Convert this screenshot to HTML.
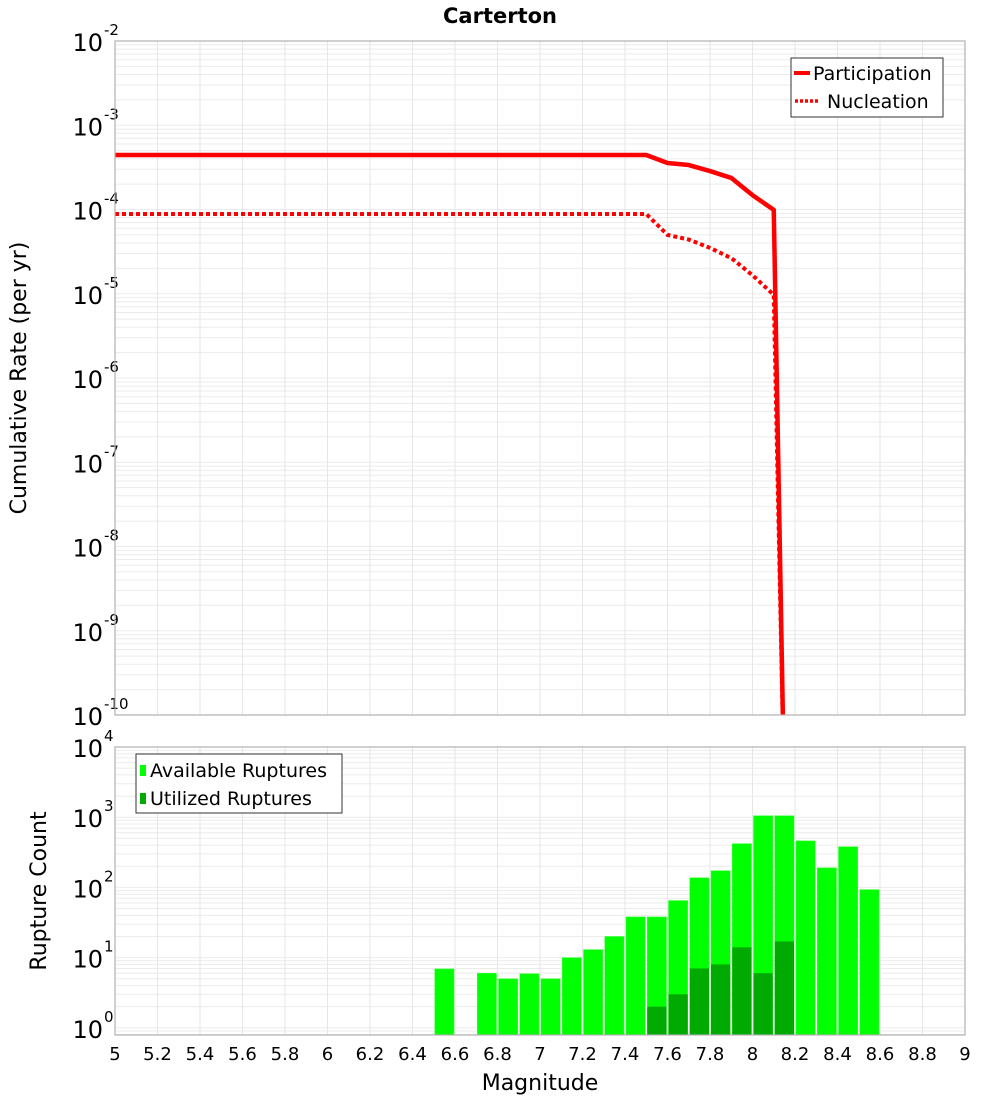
<!DOCTYPE html>
<html><head><meta charset="utf-8"><style>
body{margin:0;background:#fff;}
svg{display:block;font-family:"DejaVu Sans","Liberation Sans",sans-serif;}
</style></head><body>
<svg id="c" width="1000" height="1100" viewBox="0 0 1000 1100">
<text x="500" y="23" text-anchor="middle" font-weight="bold" font-size="21">Carterton</text>
<g id="topPlot"></g>
<g id="botPlot"></g>
<text transform="translate(26,378) rotate(-90)" text-anchor="middle" font-size="22">Cumulative Rate (per yr)</text>
<text transform="translate(46,891) rotate(-90)" text-anchor="middle" font-size="22">Rupture Count</text>
<text x="540" y="1090" text-anchor="middle" font-size="22">Magnitude</text>
</svg>
<script>
const partMags=[5.0,7.5,7.6,7.7,7.8,7.9,8.0,8.1,8.15];
const partRates=[4.43e-4,4.43e-4,3.56e-4,3.37e-4,2.86e-4,2.37e-4,1.48e-4,9.9e-5,1e-11];
const nuclMags=[5.0,7.5,7.6,7.7,7.8,7.9,8.0,8.1,8.15];
const nuclRates=[8.85e-5,8.85e-5,5.0e-5,4.4e-5,3.5e-5,2.65e-5,1.66e-5,9.7e-6,1e-11];
const binStarts=[6.5,6.7,6.8,6.9,7.0,7.1,7.2,7.3,7.4,7.5,7.6,7.7,7.8,7.9,8.0,8.1,8.2,8.3,8.4,8.5];
const available=[6.9,6.0,5,5.9,5,10,13,20,38,38,65,137,173,420,1050,1050,460,190,380,93];
const utilized=[0,0,0,0,0,0,0,0,0,2,3,7,8,14,6,17,0,0,0,0];
const xTicks=[5,5.2,5.4,5.6,5.8,6,6.2,6.4,6.6,6.8,7,7.2,7.4,7.6,7.8,8,8.2,8.4,8.6,8.8,9];
const topExps=[-2,-3,-4,-5,-6,-7,-8,-9,-10];
const botExps=[4,3,2,1,0];

const NS='http://www.w3.org/2000/svg';
function mk(p,t,a){const e=document.createElementNS(NS,t);for(const k in a)e.setAttribute(k,a[k]);p.appendChild(e);return e;}
const L=115,R=965;
const xs=m=>L+(m-5)/(9-5)*(R-L);
const T0=41,T1=715;
const yTop=v=>T0+(-2-Math.log10(v))/8*(T1-T0);
const B0=747,BPD=70.2;
const yBot=v=>B0+(4-Math.log10(v))*BPD;
const B1=1035;
const gTop=document.getElementById('topPlot'),gBot=document.getElementById('botPlot');

function grid(g,y0,y1,expHi,expLo,yf){
  for(let e=expLo;e<expHi;e++)for(let k=1;k<10;k++){const y=yf(k*Math.pow(10,e));if(y<y0||y>y1)continue;
    const l=mk(g,'line',{x1:L,x2:R,y1:y,y2:y,stroke:'#ebebeb','stroke-width':1});
    
    }
  xTicks.forEach(t=>{const l=mk(g,'line',{x1:xs(t),x2:xs(t),y1:y0,y2:y1,stroke:'#e6e6e6','stroke-width':1});
    
    });
}
grid(gTop,T0,T1,-2,-11,yTop);
grid(gBot,B0,B1,4,-1,yBot);

topExps.forEach(e=>{const y=yTop(Math.pow(10,e));
  const t=mk(gTop,'text',{x:103,y:y+10,'text-anchor':'end','font-size':24});
  
  
  t.textContent='10';
  const s=mk(gTop,'text',{x:104,y:y-6,'font-size':15});
  
  
  s.textContent=String(e);});
botExps.forEach(e=>{const y=yBot(Math.pow(10,e));
  const t=mk(gBot,'text',{x:103,y:y+10,'text-anchor':'end','font-size':24});
  
  
  t.textContent='10';
  const s=mk(gBot,'text',{x:104,y:y-6,'font-size':15});
  
  
  s.textContent=String(e);});
xTicks.forEach(t=>{const e=mk(gBot,'text',{x:xs(t),y:1060,'text-anchor':'middle','font-size':18});
  
  
  e.textContent=String(t);});

const cp=mk(gTop,'clipPath',{id:'tc'});mk(cp,'rect',{x:L,y:T0,width:R-L,height:T1-T0});
const pl=mk(gTop,'polyline',{points:partMags.map((m,i)=>xs(m)+','+yTop(partRates[i])).join(' '),fill:'none',stroke:'#ff0000','stroke-width':4.5,'clip-path':'url(#tc)','stroke-linejoin':'round'});


const nl=mk(gTop,'polyline',{points:nuclMags.map((m,i)=>xs(m)+','+yTop(nuclRates[i])).join(' '),fill:'none',stroke:'#ff0000','stroke-width':4,'stroke-dasharray':'4 3','clip-path':'url(#tc)'});


const tb=mk(gTop,'rect',{x:L,y:T0,width:R-L,height:T1-T0,fill:'none',stroke:'#b0b0b0','stroke-width':1.2});



const lg=mk(gTop,'g',{});


mk(lg,'rect',{x:791,y:58,width:152,height:59,fill:'#fff',stroke:'#333','stroke-width':1});
mk(lg,'line',{x1:794,x2:810,y1:73,y2:73,stroke:'#f00','stroke-width':4});
const lt1=mk(lg,'text',{x:813,y:80,'font-size':19});lt1.textContent='Participation';


mk(lg,'line',{x1:795,x2:819,y1:101,y2:101,stroke:'#f00','stroke-width':3.5,'stroke-dasharray':'3 2'});
const lt2=mk(lg,'text',{x:827,y:108,'font-size':19});lt2.textContent='Nucleation';



const bw=(R-L)*0.1/4;
binStarts.forEach((m,i)=>{
  const x=xs(m)+1,w=bw-2;
  if(available[i]>0){const y=yBot(available[i]);
    const r=mk(gBot,'rect',{x:x,y:y,width:w,height:B1-y,fill:'#00ff00',stroke:'#40ff40','stroke-width':0.5});
    
    }
  if(utilized[i]>0){const y=yBot(utilized[i]);
    const r=mk(gBot,'rect',{x:x,y:y,width:w,height:B1-y,fill:'#00aa00'});
    
    }
});
const bb=mk(gBot,'rect',{x:L,y:B0,width:R-L,height:B1-B0,fill:'none',stroke:'#b0b0b0','stroke-width':1.2});



const lb=mk(gBot,'g',{});


mk(lb,'rect',{x:136,y:754,width:206,height:59,fill:'#fff',stroke:'#333','stroke-width':1});
mk(lb,'rect',{x:140,y:765,width:6,height:11,fill:'#00ff00'});
const b1=mk(lb,'text',{x:150,y:777,'font-size':19});b1.textContent='Available Ruptures';


mk(lb,'rect',{x:140,y:793,width:6,height:11,fill:'#00aa00'});
const b2=mk(lb,'text',{x:150,y:805,'font-size':19});b2.textContent='Utilized Ruptures';


</script>
</body></html>
